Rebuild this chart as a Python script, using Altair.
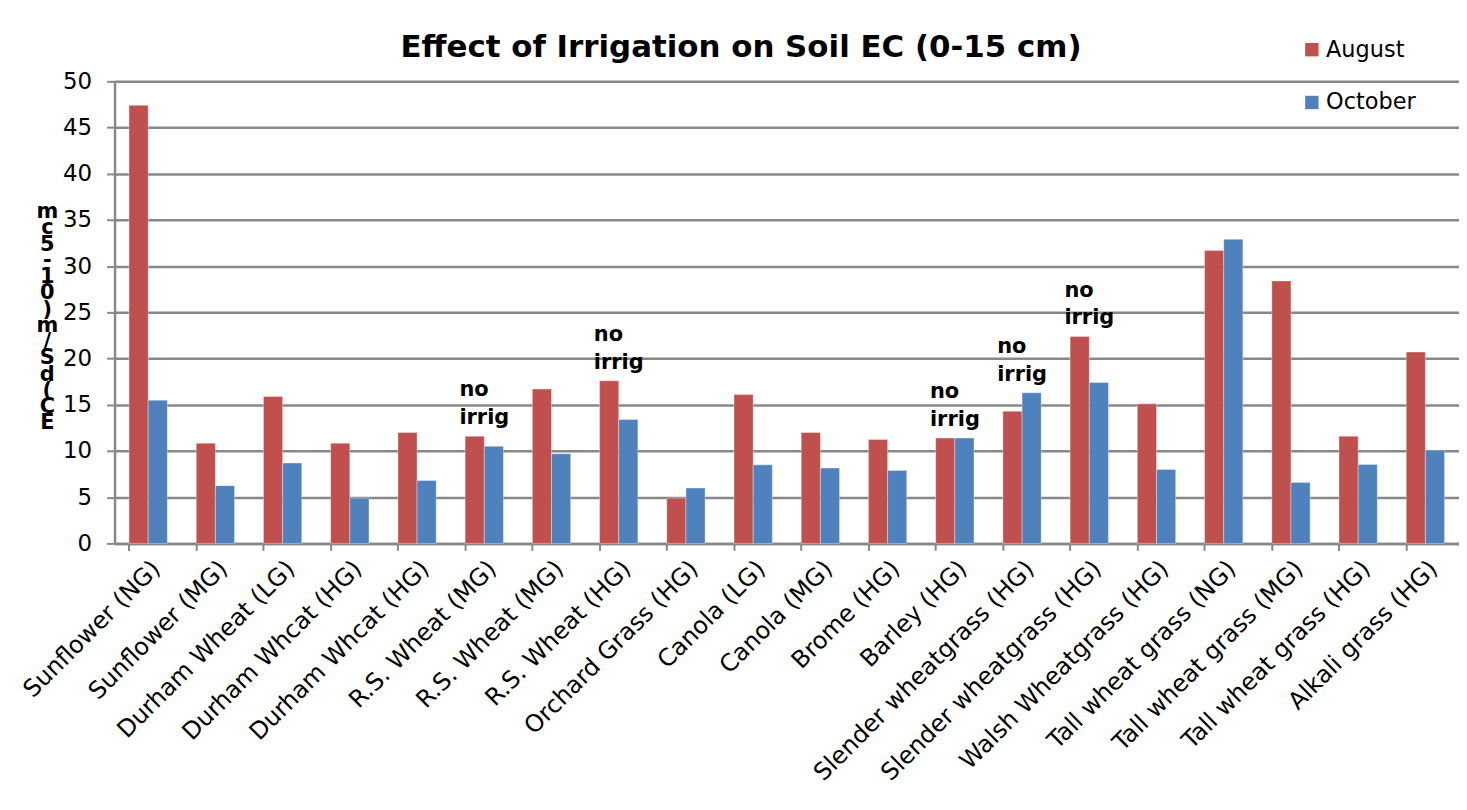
import altair as alt
import pandas as pd

categories = [
    "Sunflower (NG)", "Sunflower (MG)", "Durham Wheat (LG)", "Durham Whcat (HG)",
    "Durham Whcat  (HG)", "R.S. Wheat (MG)", "R.S. Wheat  (MG)", "R.S. Wheat (HG)",
    "Orchard Grass (HG)", "Canola (LG)", "Canola (MG)", "Brome (HG)", "Barley (HG)",
    "Slender wheatgrass (HG)", "Slender wheatgrass  (HG)", "Walsh Wheatgrass (HG)",
    "Tall wheat grass (NG)", "Tall wheat grass (MG)", "Tall wheat grass (HG)", "Alkali grass (HG)",
]
august = [47.4, 10.85, 15.9, 10.85, 12.0, 11.6, 16.7, 17.6, 4.9, 16.1,
          12.0, 11.25, 11.4, 14.3, 22.4, 15.1, 31.7, 28.4, 11.6, 20.7]
october = [15.5, 6.25, 8.7, 4.9, 6.8, 10.5, 9.7, 13.4, 6.0, 8.5,
           8.15, 7.9, 11.4, 16.3, 17.4, 8.0, 32.9, 6.6, 8.55, 10.1]
no_irrig = [False, False, False, False, False, True, False, True, False, False,
            False, False, True, True, True, False, False, False, False, False]
months = ["August", "October"]
colors = ["#C0504D", "#4F81BD"]
y_title_letters = ["m", "c", "5", "-", "1", "0", ")", "m", "/", "S", "d", "(", "C", "E"]

rows = []
for c, a, o in zip(categories, august, october):
    rows.append({"category": c, "month": "August", "value": a})
    rows.append({"category": c, "month": "October", "value": o})
df = pd.DataFrame(rows)

ann = pd.DataFrame([
    {"category": c, "top": max(a, o), "label": ["no", "irrig"]}
    for c, a, o, n in zip(categories, august, october, no_irrig) if n
])

FONT = "DejaVu Sans"

x_enc = alt.X(
    "category:N", sort=categories, title=None,
    scale=alt.Scale(paddingInner=0.43, paddingOuter=0.215),
    axis=alt.Axis(
        labelAngle=315, labelFontSize=24, labelFont=FONT, labelColor="black",
        labelLimit=500, labelPadding=6, bandPosition=0, ticks=True, tickSize=7,
        tickColor="#888888", tickWidth=2, domainColor="#888888", domainWidth=2.5,
        grid=False, labelOverlap=False,
    ),
)

bars = alt.Chart(df).mark_bar(stroke="white", strokeWidth=0.6, strokeOpacity=0.6).encode(
    x=x_enc,
    xOffset=alt.XOffset("month:N", sort=months,
                        scale=alt.Scale(paddingInner=0, paddingOuter=0)),
    y=alt.Y(
        "value:Q", scale=alt.Scale(domain=[0, 50]),
        axis=alt.Axis(
            values=list(range(0, 51, 5)), labelFontSize=23, labelFont=FONT,
            labelColor="black", tickSize=8, tickColor="#888888", tickWidth=2,
            labelPadding=15, domainColor="#888888", domainWidth=2.5,
            gridColor="#888888", gridWidth=2.5,
            title=y_title_letters, titleAngle=0, titleX=-68, titleY=120,
            titleAlign="center", titleBaseline="top", titleFontSize=21,
            titleFont="DejaVu Sans", titleFontWeight="bold", titleLineHeight=16.3,
            titleColor="black",
        ),
    ),
    color=alt.Color(
        "month:N", sort=months, scale=alt.Scale(domain=months, range=colors),
        legend=alt.Legend(
            orient="none", legendX=1191, legendY=-43, title=None,
            labelFontSize=22.5, labelFont=FONT, labelColor="black",
            symbolType="square", symbolSize=180, symbolStrokeWidth=0,
            rowPadding=30, labelOffset=3,
        ),
    ),
)

text = alt.Chart(ann).mark_text(
    align="left", baseline="bottom", dx=-25, dy=-36, fontSize=21,
    font="DejaVu Sans", fontWeight="bold", lineHeight=28, color="black",
).encode(
    x=alt.X("category:N", sort=categories),
    y=alt.Y("top:Q"),
    text="label",
)

chart = alt.layer(bars, text).properties(
    width=1350, height=464,
    autosize=alt.AutoSizeParams(type="none"),
    padding={"left": 107, "top": 72, "right": 0, "bottom": 250},
    title=alt.TitleParams(
        "Effect of Irrigation on Soil EC (0-15 cm)", fontSize=31, font=FONT,
        fontWeight="bold", color="black", anchor="middle", dx=-46, offset=-26,
    ),
).configure_view(stroke=None).configure_axis(gridOpacity=1)

chart.save("out.html", embed_options={"renderer": "svg", "actions": False})
